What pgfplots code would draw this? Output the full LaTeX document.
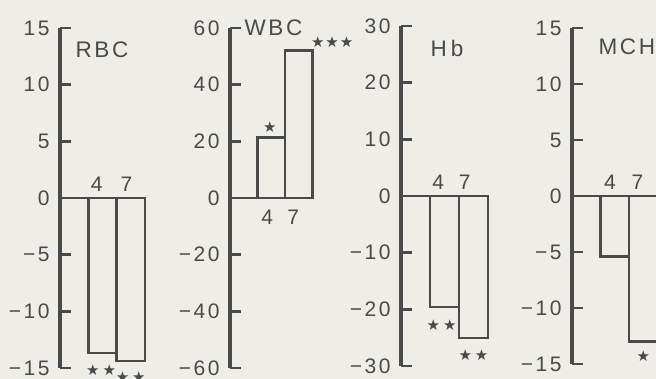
\documentclass[border=0pt]{standalone}
\usepackage{pgfplots}
\pgfplotsset{compat=1.18}
\usepackage{fontspec}
\setmainfont{Liberation Sans}[LetterSpace=12]
\newfontfamily\starfont{DejaVu Sans}
\definecolor{ink}{HTML}{4A4A4A}
\definecolor{paper}{HTML}{EEEDE8}
\newcommand{\lab}{\fontsize{21}{21}\selectfont}
\newcommand{\ttl}{\fontsize{22.5}{22.5}\selectfont}
\newcommand{\st}[1]{{\starfont\fontsize{15}{15}\selectfont #1}}
\pgfplotsset{panel/.style={
  anchor=origin, axis y line=left, axis x line=none,
  y axis line style={-, line width=4.5pt, ink},
  tick align=inside, major tick length=11pt,
  ytick style={line width=2.5pt, ink},
  xmin=0, xmax=3.3, xtick=\empty,
  clip=false,
  yticklabel style={font=\lab, text=ink, xshift=-7pt},
}}
\begin{document}
\begin{tikzpicture}
\useasboundingbox (0,0) rectangle (656pt,-379pt);
\fill[paper] (0,0) rectangle (656pt,-379pt);
\clip (0,0) rectangle (656pt,-379pt);

% RBC
\begin{axis}[panel, at={(60pt,-198pt)}, x=28.3pt, y=11.33pt,
  ymin=-15, ymax=15, ytick={-15,-10,...,15},
  yticklabels={−15,−10,−5,0,5,10,15}]
\addplot[ink, line width=2.5pt] coordinates {(0,0) (3,0)};
\addplot[ybar, bar width=1, draw=ink, line width=2.5pt, fill=none] coordinates {(1.5,-13.7) (2.5,-14.4)};
\node[anchor=west, text=ink, font=\ttl, xshift=12pt, yshift=148pt] at (axis cs:0,0) {RBC};
\node[anchor=base, text=ink, font=\lab, yshift=6pt] at (axis cs:1.3,0) {4};
\node[anchor=base, text=ink, font=\lab, yshift=6pt] at (axis cs:2.35,0) {7};
\node[text=ink, yshift=-17pt] at (axis cs:1.45,-13.7) {\st{★\hspace{3pt}★}};
\node[text=ink, yshift=-16pt] at (axis cs:2.5,-14.4) {\st{★\hspace{3pt}★}};
\end{axis}

% WBC
\begin{axis}[panel, at={(230pt,-198pt)}, x=27.5pt, y=2.833pt,
  ymin=-60, ymax=60, ytick={-60,-40,...,60},
  yticklabels={−60,−40,−20,0,20,40,60}]
\addplot[ink, line width=2.5pt] coordinates {(0,0) (3,0)};
\addplot[ybar, bar width=1, draw=ink, line width=2.5pt, fill=none] coordinates {(1.5,21.4) (2.5,52)};
\node[anchor=west, text=ink, font=\ttl, xshift=11pt, yshift=170pt] at (axis cs:0,0) {WBC};
\node[anchor=base, text=ink, font=\lab, yshift=-27pt] at (axis cs:1.35,0) {4};
\node[anchor=base, text=ink, font=\lab, yshift=-27pt] at (axis cs:2.3,0) {7};
\node[text=ink, yshift=10pt] at (axis cs:1.45,21.4) {\st{★}};
\node[anchor=west, text=ink, xshift=-5pt, yshift=9pt] at (axis cs:3,52) {\st{★\hspace{1pt}★\hspace{1pt}★}};
\end{axis}

% Hb
\begin{axis}[panel, at={(401pt,-196pt)}, x=29pt, y=5.667pt,
  ymin=-30, ymax=30, ytick={-30,-20,...,30},
  yticklabels={−30,−20,−10,0,10,20,30}]
\addplot[ink, line width=2.5pt] coordinates {(0,0) (3,0)};
\addplot[ybar, bar width=1, draw=ink, line width=2.5pt, fill=none] coordinates {(1.5,-19.6) (2.5,-25.1)};
\node[anchor=west, text=ink, font=\ttl, xshift=26pt, yshift=148pt] at (axis cs:0,0) {H\hspace{4pt}b};
\node[anchor=base, text=ink, font=\lab, yshift=6pt] at (axis cs:1.28,0) {4};
\node[anchor=base, text=ink, font=\lab, yshift=6pt] at (axis cs:2.2,0) {7};
\node[text=ink, yshift=-18pt] at (axis cs:1.4,-19.6) {\st{★\hspace{3pt}★}};
\node[text=ink, yshift=-17pt] at (axis cs:2.5,-25.1) {\st{★\hspace{3pt}★}};
\end{axis}

% MCH
\begin{axis}[panel, at={(572pt,-196pt)}, x=28.5pt, y=11.2pt,
  ymin=-15, ymax=15, ytick={-15,-10,...,15},
  yticklabels={−15,−10,−5,0,5,10,15}]
\addplot[ink, line width=2.5pt] coordinates {(0,0) (3,0)};
\addplot[ybar, bar width=1, draw=ink, line width=2.5pt, fill=none] coordinates {(1.5,-5.4) (2.5,-13.0)};
\node[anchor=west, text=ink, font=\ttl, xshift=23pt, yshift=149pt] at (axis cs:0,0) {MCH};
\node[anchor=base, text=ink, font=\lab, yshift=6pt] at (axis cs:1.33,0) {4};
\node[anchor=base, text=ink, font=\lab, yshift=6pt] at (axis cs:2.3,0) {7};
\node[text=ink, yshift=-15pt] at (axis cs:2.5,-13.0) {\st{★}};
\end{axis}
\end{tikzpicture}
\end{document}
